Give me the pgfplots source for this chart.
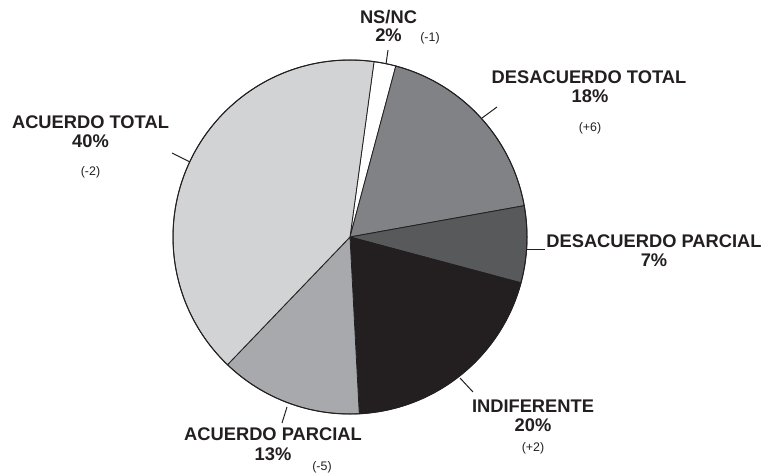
\documentclass[border=0pt]{standalone}
\usepackage{pgfplots}
\pgfplotsset{compat=1.18}
\usepackage{fontspec}
\setmainfont{Liberation Sans}
\definecolor{cAT}{HTML}{D1D3D4}
\definecolor{cAP}{HTML}{A7A9AC}
\definecolor{cIN}{HTML}{231F20}
\definecolor{cDP}{HTML}{58595B}
\definecolor{cDT}{HTML}{808285}
\definecolor{cNS}{HTML}{FFFFFF}
\definecolor{txt}{HTML}{231F20}
\begin{document}
\begin{tikzpicture}
\begin{axis}[at={(0,0)},anchor=south west,width=768pt,height=475pt,scale only axis,
  xmin=0,xmax=768,ymin=0,ymax=475,hide axis,clip=false]
\path (axis cs:0,0) rectangle (axis cs:768,475);
% value / colour / cumulative value before the slice
\foreach \v/\col/\cum in {2/cNS/0,18/cDT/2,7/cDP/20,20/cIN/27,13/cAP/47,40/cAT/60}{
  \pgfmathsetmacro\a{82.2-3.6*\cum}
  \pgfmathsetmacro\b{\a-3.6*\v}
  \edef\temp{\noexpand\filldraw[fill=\col,draw=txt,line width=0.8pt,line join=round] (axis cs:350,238) -- ++(\a:177pt) arc[start angle=\a,end angle=\b,radius=177pt] -- cycle;}
  \temp
}
\draw[txt,line width=1pt] (axis cs:350,238) circle[radius=177pt];
% ticks
\draw[txt,line width=1pt] (axis cs:172,322) -- (axis cs:190,313);
\draw[txt,line width=1pt] (axis cs:388,425) -- (axis cs:386,411);
\draw[txt,line width=1pt] (axis cs:482,357) -- (axis cs:497,368);
\draw[txt,line width=1pt] (axis cs:527,226) -- (axis cs:545,226);
\draw[txt,line width=1pt] (axis cs:460,97) -- (axis cs:473,83);
\draw[txt,line width=1pt] (axis cs:287,68) -- (axis cs:282,52);
% labels
\tikzset{big/.style={anchor=base,inner sep=0pt,text=txt,font=\fontsize{18.3}{20}\selectfont\bfseries},
         small/.style={anchor=base,inner sep=0pt,text=txt,font=\fontsize{12.4}{14}\selectfont}}
\node[big] at (axis cs:90.5,347) {ACUERDO TOTAL};
\node[big] at (axis cs:90.5,328) {40\%};
\node[small] at (axis cs:90.5,300) {(-2)};
\node[big] at (axis cs:388.5,451) {NS/NC};
\node[big] at (axis cs:388.5,433) {2\%};
\node[small] at (axis cs:430,433) {(-1)};
\node[big] at (axis cs:589,391) {DESACUERDO TOTAL};
\node[big] at (axis cs:590,372) {18\%};
\node[small] at (axis cs:590,344) {(+6)};
\node[big] at (axis cs:654,228) {DESACUERDO PARCIAL};
\node[big] at (axis cs:654,209) {7\%};
\node[big] at (axis cs:533,63) {INDIFERENTE};
\node[big] at (axis cs:533,44) {20\%};
\node[small] at (axis cs:533,24) {(+2)};
\node[big] at (axis cs:273,35) {ACUERDO PARCIAL};
\node[big] at (axis cs:273,15) {13\%};
\node[small] at (axis cs:322,5) {(-5)};
\end{axis}
\end{tikzpicture}
\end{document}
